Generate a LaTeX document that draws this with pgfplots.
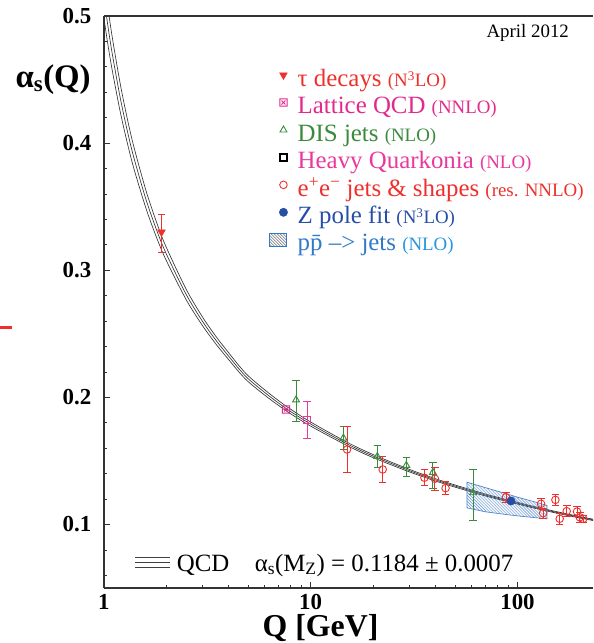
\documentclass[border=0pt]{standalone}
\usepackage{pgfplots}
\pgfplotsset{compat=1.18}
\usepackage{fontspec}
\setmainfont{Liberation Serif}
\usetikzlibrary{patterns,calc}

\definecolor{tred}{RGB}{238,48,45}
\definecolor{latpink}{RGB}{226,42,140}
\definecolor{disgreen}{RGB}{58,138,60}
\definecolor{quarkpink}{RGB}{232,58,158}
\definecolor{zblue}{RGB}{38,78,165}
\definecolor{ppblue}{RGB}{48,122,200}
\definecolor{pplight}{RGB}{40,150,222}
\definecolor{hatch}{RGB}{80,135,205}

% boxed cross mark for lattice QCD
\pgfdeclareplotmark{boxx}{%
  \pgfpathrectangle{\pgfpoint{-\pgfplotmarksize}{-\pgfplotmarksize}}{\pgfpoint{2\pgfplotmarksize}{2\pgfplotmarksize}}%
  \pgfpathmoveto{\pgfpoint{-0.55\pgfplotmarksize}{-0.55\pgfplotmarksize}}%
  \pgfpathlineto{\pgfpoint{0.55\pgfplotmarksize}{0.55\pgfplotmarksize}}%
  \pgfpathmoveto{\pgfpoint{-0.55\pgfplotmarksize}{0.55\pgfplotmarksize}}%
  \pgfpathlineto{\pgfpoint{0.55\pgfplotmarksize}{-0.55\pgfplotmarksize}}%
  \pgfusepathqstroke}

% legend entry strut plus gap after the legend image
\newcommand\ls{\hspace*{9bp}\rule[-7bp]{0pt}{31bp}}
\newcommand\pn[1]{{\fontsize{19}{20}\selectfont #1}}

\pgfplotsset{
  err/.style={error bars/.cd, y dir=both, y explicit,
    error bar style={#1, line width=0.9bp},
    error mark options={#1, rotate=90, mark size=3.8bp, line width=0.9bp}},
}

\begin{document}
\begin{tikzpicture}
\begin{axis}[
    name=ax,
    scale only axis,
    width=490bp, height=573bp,
    xmode=log,
    xmin=1, xmax=232,
    ymin=0.05, ymax=0.5,
    axis x line*=bottom,
    axis y line*=left,
    axis line style={line width=1.4bp, black!80, -},
    tick align=inside,
    xtick={1,10,100}, xticklabels={1,10,100},
    ytick={0.1,0.2,0.3,0.4,0.5}, yticklabels={0.1,0.2,0.3,0.4,0.5},
    minor ytick={0.06,0.08,0.12,0.14,0.16,0.18,0.22,0.24,0.26,0.28,0.32,0.34,0.36,0.38,0.42,0.44,0.46,0.48},
    major tick length=6bp, minor tick length=3bp,
    tick style={black!80, line width=0.8bp},
    ticklabel style={font=\fontsize{23}{23}\selectfont\bfseries},
    yticklabel style={xshift=-9bp},
    xticklabel style={yshift=-3bp},
    /pgf/number format/assume math mode=true,
    legend style={at={(rel axis cs:0.337,0.921)}, anchor=north west,
        draw=none, fill=none, inner sep=0pt, row sep=0pt,
        nodes={inner sep=1pt},
        font=\fontsize{25}{27}\selectfont},
    legend cell align=left,
]
% legend images
\addlegendimage{only marks, mark=triangle*, mark size=4.5bp, tred, mark options={rotate=180, draw=tred, fill=tred}}
\addlegendentry{\textcolor{tred}{\ls τ decays \pn{(N\textsuperscript{3}LO)}}}
\addlegendimage{only marks, mark=boxx, mark size=3.6bp, latpink, mark options={draw=latpink, line width=0.9bp}}
\addlegendentry{\textcolor{latpink}{\ls Lattice QCD \pn{(NNLO)}}}
\addlegendimage{only marks, mark=triangle, mark size=4bp, disgreen, mark options={draw=disgreen, line width=0.9bp}}
\addlegendentry{\textcolor{disgreen}{\ls DIS jets \pn{(NLO)}}}
\addlegendimage{legend image code/.code={%
  \fill[fill=quarkpink] (0.3cm,0cm) +(-4.1bp,-4.1bp) rectangle +(4.1bp,4.1bp);
  \fill[fill=white] (0.3cm,0cm) +(-3.0bp,-3.0bp) rectangle +(3.0bp,3.0bp);}}
\addlegendentry{\textcolor{quarkpink}{\ls Heavy Quarkonia \pn{(NLO)}}}
\addlegendimage{only marks, mark=o, mark size=3.8bp, tred, mark options={draw=tred, line width=0.9bp}}
\addlegendentry{\textcolor{tred}{\ls e\textsuperscript{+}e\textsuperscript{−} jets \& shapes \pn{(res. NNLO)}}}
\addlegendimage{only marks, mark=*, mark size=4.2bp, zblue, mark options={draw=zblue, fill=zblue}}
\addlegendentry{\textcolor{zblue}{\ls Z pole fit \pn{(N\textsuperscript{3}LO)}}}
\addlegendimage{legend image code/.code={\draw[draw=ppblue, line width=0.8bp, pattern=north west lines, pattern color=black!75] (-0.2cm,-0.23cm) rectangle (0.4cm,0.23cm);}}
\addlegendentry{\textcolor{ppblue}{\ls p\={p} \textendash> jets} \textcolor{pplight}{\pn{(NLO)}}}

% QCD running coupling, central value and +- 1 sigma
\addplot[forget plot, smooth, black!80, line width=0.65bp] coordinates {
 (1.0,0.5308) (1.05,0.5049) (1.1,0.4826) (1.2,0.4467) (1.3,0.4188) (1.4,0.3965)
 (1.6,0.3625) (1.8,0.3376) (2.0,0.3184) (2.5,0.2851) (3.0,0.2632) (3.5,0.2475)
 (4.0,0.2354) (4.5,0.2250) (5,0.2168) (6,0.2059) (7,0.1974) (8,0.1907) (10,0.1806)
 (15,0.1647) (20,0.1551) (30,0.1434) (40,0.1361) (50,0.13105) (70,0.12396)
 (91.2,0.1191) (120,0.11424) (150,0.1106) (200,0.10626) (235,0.10404)};
\addplot[forget plot, smooth, black!80, line width=0.65bp] coordinates {
 (1.0,0.5148) (1.05,0.4904) (1.1,0.4696) (1.2,0.4357) (1.3,0.4093) (1.4,0.3880)
 (1.6,0.3555) (1.8,0.3316) (2.0,0.3132) (2.5,0.2810) (3.0,0.2598) (3.5,0.2445)
 (4.0,0.2327) (4.5,0.2225) (5,0.2145) (6,0.2038) (7,0.1955) (8,0.1889) (10,0.1790)
 (15,0.1634) (20,0.1539) (30,0.1424) (40,0.1352) (50,0.1302) (70,0.1232)
 (91.2,0.1184) (120,0.1136) (150,0.1100) (200,0.1057) (235,0.1035)};
\addplot[forget plot, smooth, black!80, line width=0.65bp] coordinates {
 (1.0,0.4988) (1.05,0.4759) (1.1,0.4566) (1.2,0.4247) (1.3,0.3998) (1.4,0.3795)
 (1.6,0.3485) (1.8,0.3256) (2.0,0.3080) (2.5,0.2769) (3.0,0.2564) (3.5,0.2415)
 (4.0,0.2300) (4.5,0.2200) (5,0.2122) (6,0.2017) (7,0.1936) (8,0.1871) (10,0.1774)
 (15,0.1621) (20,0.1527) (30,0.1414) (40,0.1343) (50,0.12935) (70,0.12244)
 (91.2,0.1177) (120,0.11296) (150,0.1094) (200,0.10514) (235,0.10296)};

% p pbar -> jets band
\addplot[forget plot, draw=hatch, line width=0.7bp, pattern=north west lines, pattern color=hatch] coordinates {
 (57,0.1333) (70,0.1290) (85,0.1250) (100,0.1215) (120,0.1180) (139,0.1150)
 (139,0.1045) (120,0.1055) (100,0.1068) (85,0.1082) (70,0.1100) (57,0.1131)} -- cycle;

% tau decays
\addplot[forget plot, only marks, tred, mark=triangle*, mark size=4.5bp, mark options={rotate=180, fill=tred},
  err=tred] coordinates {
 (1.9,0.330) += (0,0.014) -= (0,0.016)};
% lattice QCD
\addplot[forget plot, only marks, latpink, mark=boxx, mark size=3.6bp, mark options={line width=0.9bp}] coordinates {
 (7.6,0.1905)};
% DIS jets
\addplot[forget plot, only marks, disgreen, mark=triangle, mark size=4bp, mark options={line width=0.9bp},
  err=disgreen] coordinates {
 (8.5,0.198) += (0,0.015) -= (0,0.017)
 (14.4,0.168) +- (0,0.009)
 (21.0,0.1535) +- (0,0.0085)
 (29.0,0.1465) += (0,0.006) -= (0,0.0085)
 (39.0,0.141) += (0,0.008) -= (0,0.0125)
 (61.0,0.125) += (0,0.018) -= (0,0.022)};
% heavy quarkonia
\addplot[forget plot, only marks, quarkpink, mark=square, mark size=3.6bp, mark options={line width=0.9bp},
  err=quarkpink] coordinates {
 (9.6,0.182) +- (0,0.0145)};
% e+e- jets and shapes
\addplot[forget plot, only marks, tred, mark=o, mark size=3.8bp, mark options={line width=0.9bp, fill=white},
  err=tred] coordinates {
 (15.0,0.159) +- (0,0.018)
 (22.3,0.1433) +- (0,0.0105)
 (35.5,0.1368) +- (0,0.0062)
 (39.9,0.1360) +- (0,0.009)
 (44.9,0.1286) +- (0,0.005)
 (88,0.1215) +- (0,0.004)
 (130,0.1163) +- (0,0.004)
 (133,0.1089) +- (0,0.004)
 (152.5,0.1194) +- (0,0.0043)
 (160,0.1045) +- (0,0.0042)
 (173,0.1105) +- (0,0.0043)
 (194,0.1102) +- (0,0.004)
 (200,0.1057) +- (0,0.004)
 (208,0.1045) +- (0,0.003)};
% Z pole fit
\addplot[forget plot, only marks, zblue, mark=*, mark size=4.2bp] coordinates {
 (93,0.1185)};
\end{axis}
% frame top, labels and annotations
\draw[black!80, line width=1.4bp] (ax.north west) -- (ax.north east);
\node[anchor=east, font=\fontsize{33}{33}\selectfont\bfseries, inner sep=0pt]
  at ($(ax.north west)+(-13bp,-64bp)$) {α\textsubscript{s}(Q)};
\node[font=\fontsize{32}{32}\selectfont\bfseries, inner sep=0pt]
  at ($(ax.south west)+(217bp,-40bp)$) {Q [GeV]};
\node[anchor=east, font=\fontsize{19}{19}\selectfont, inner sep=0pt]
  at ($(ax.north west)+(466bp,-17bp)$) {April 2012};
\foreach \dy in {31,26,21}
  \draw[black!75, line width=0.7bp] ($(ax.south west)+(31bp,\dy bp)$) -- ++(35bp,0);
\node[anchor=base west, font=\fontsize{25}{25}\selectfont, inner sep=0pt]
  at ($(ax.south west)+(73bp,17bp)$) {QCD};
\node[anchor=base west, font=\fontsize{25}{25}\selectfont, inner sep=0pt]
  at ($(ax.south west)+(151bp,17bp)$) {α\textsubscript{s}(M\textsubscript{Z}) = 0.1184 ± 0.0007};
\draw[tred, line width=3bp] ($(ax.south west)+(-104bp,261bp)$) -- ++(12bp,0);
\pgfresetboundingbox
\path[use as bounding box] ($(ax.south west)+(-104bp,-55bp)$) rectangle ($(ax.north east)+(0bp,16bp)$);
\end{tikzpicture}
\end{document}
